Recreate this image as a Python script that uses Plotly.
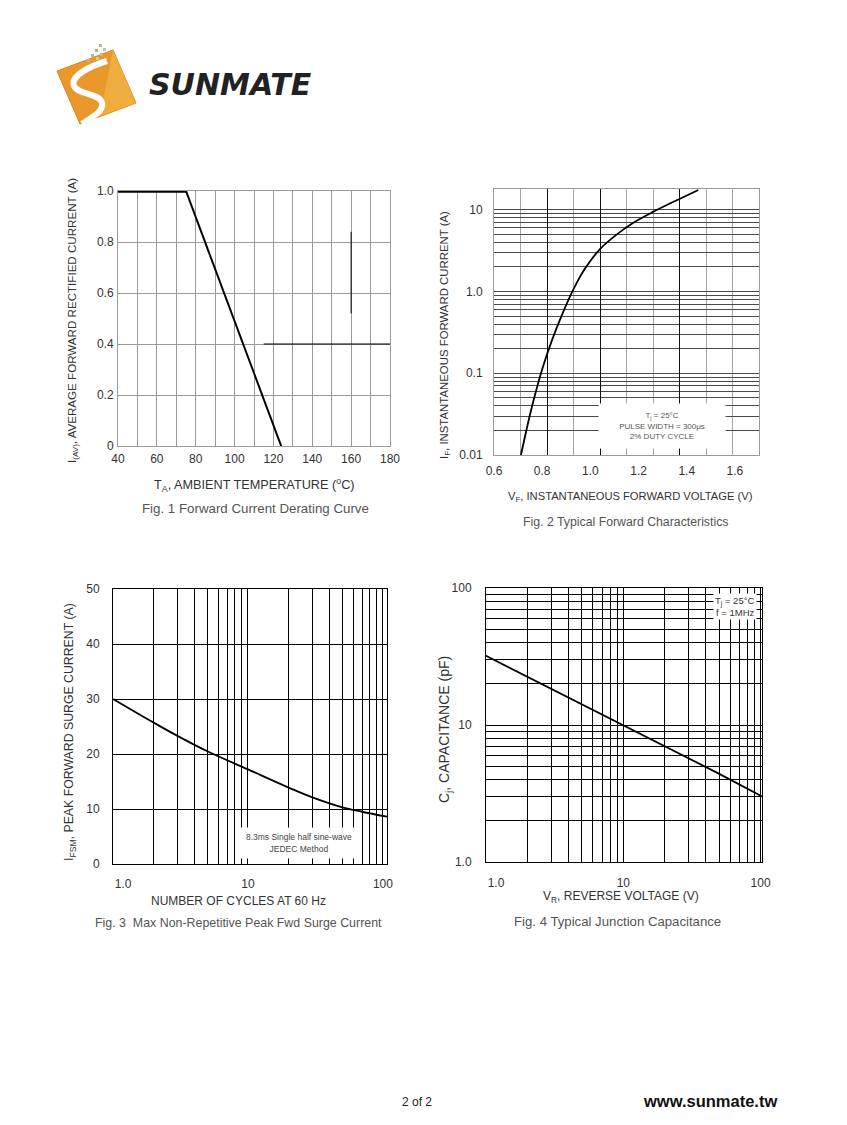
import plotly.graph_objects as go

W, H = 847, 1125
OFF_X, OFF_Y = 8, 8  # page body margin of the browser

# ---------------- data ----------------
# Fig. 1 Forward Current Derating Curve
derate_flat_temp = [40, 75]
derate_flat_current = [1.0, 1.0]
derate_slope_temp = [75, 124]
derate_slope_current = [1.0, 0.0]
fig1_mark_h_temp = [115, 180]
fig1_mark_h_current = [0.4, 0.4]
fig1_mark_v_temp = [160, 160]
fig1_mark_v_current = [0.52, 0.84]
fig1_xticks = [40, 60, 80, 100, 120, 140, 160, 180]
fig1_xgrid = [50, 70, 90, 110, 130, 150, 170]
fig1_yticks = [0, 0.2, 0.4, 0.6, 0.8, 1.0]
fig1_ytext = ["0", "0.2", "0.4", "0.6", "0.8", "1.0"]

# Fig. 2 Typical Forward Characteristics
vf_volts = [0.712, 0.735, 0.76, 0.80, 0.84, 0.88, 0.93, 0.98, 1.04, 1.11, 1.18, 1.26, 1.37, 1.448]
if_amps = [0.01, 0.0204, 0.0417, 0.112, 0.251, 0.501, 1.07, 1.95, 3.31, 5.01, 7.0, 9.44, 13.6, 17.5]
fig2_xticks = [0.6, 0.8, 1.0, 1.2, 1.4, 1.6]
fig2_xtext = ["0.6", "0.8", "1.0", "1.2", "1.4", "1.6"]
fig2_xgrid_light = [0.71, 0.93, 1.15, 1.26, 1.48, 1.59, 1.70]
fig2_xgrid_dark = [0.82, 1.04, 1.37]
fig2_yticks = [0.01, 0.1, 1, 10]
fig2_ytext = ["0.01", "0.1", "1.0", "10"]
fig2_ygrid = [0.02, 0.03, 0.04, 0.05, 0.06, 0.07, 0.08, 0.09,
              0.2, 0.3, 0.4, 0.5, 0.6, 0.7, 0.8, 0.9,
              2, 3, 4, 5, 6, 7, 8, 9]

# Fig. 3 Max Non-Repetitive Peak Fwd Surge Current
cycles = [1, 2, 3, 5, 10, 20, 30, 50, 70, 107]
ifsm_amps = [30.0, 25.7, 23.3, 20.5, 17.2, 13.9, 12.1, 10.3, 9.5, 8.6]
fig3_xticks = [1, 10, 100]
fig3_xtext = ["\u2007\u2007\u20071.0", "10", "100"]
fig3_xgrid = [2, 3, 4, 5, 6, 7, 8, 9, 20, 30, 40, 50, 60, 70, 80, 90]
fig3_yticks = [0, 10, 20, 30, 40, 50]

# Fig. 4 Typical Junction Capacitance
vr_volts = [1, 2, 5, 10, 20, 50, 100, 102]
cj_pf = [32, 22.5, 14.3, 10, 7.0, 4.4, 3.05, 2.98]
fig4_ticks = [1, 10, 100]
fig4_xtext = ["\u2007\u2007\u20071.0", "10", "100"]
fig4_ytext = ["1.0", "10", "100"]
fig4_grid = [2, 3, 4, 5, 6, 7, 8, 9, 20, 30, 40, 50, 60, 70, 80, 90]

# ---------------- helpers ----------------
def px(x):
    return (x - OFF_X) / W

def py(y):
    return 1 - (y - OFF_Y) / H

def path(cmds):
    out = []
    for c in cmds:
        if isinstance(c, str):
            out.append(c)
        else:
            out.append(f"{px(c[0]):.5f},{py(c[1]):.5f}")
    return " ".join(out)

FONT = "Liberation Sans, Arial, Helvetica, sans-serif"
TICKFONT = dict(family=FONT, size=12, color="#333")

fig = go.Figure()

# Fig 1 traces
fig.add_trace(go.Scatter(x=fig1_mark_h_temp, y=fig1_mark_h_current, mode="lines",
                         line=dict(color="black", width=1), xaxis="x", yaxis="y"))
fig.add_trace(go.Scatter(x=fig1_mark_v_temp, y=fig1_mark_v_current, mode="lines",
                         line=dict(color="black", width=1), xaxis="x", yaxis="y"))
fig.add_trace(go.Scatter(x=derate_flat_temp, y=derate_flat_current, mode="lines",
                         line=dict(color="black", width=3.5), xaxis="x", yaxis="y"))
fig.add_trace(go.Scatter(x=derate_slope_temp, y=derate_slope_current, mode="lines",
                         line=dict(color="black", width=2), xaxis="x", yaxis="y"))
# Fig 2 (empty trace to carry the overlay grid axis)
fig.add_trace(go.Scatter(x=[], y=[], mode="lines", xaxis="x5", yaxis="y2"))
fig.add_trace(go.Scatter(x=vf_volts, y=if_amps, mode="lines", line_shape="spline",
                         line=dict(color="black", width=1.8, smoothing=1.0),
                         xaxis="x2", yaxis="y2"))
# Fig 3
fig.add_trace(go.Scatter(x=cycles, y=ifsm_amps, mode="lines", line_shape="spline",
                         line=dict(color="black", width=1.8, smoothing=1.0),
                         xaxis="x3", yaxis="y3"))
# Fig 4
fig.add_trace(go.Scatter(x=vr_volts, y=cj_pf, mode="lines",
                         line=dict(color="black", width=1.8), xaxis="x4", yaxis="y4"))

def dom_x(a, b):
    return [px(a), px(b)]

def dom_y(top, bottom):
    return [py(bottom), py(top)]

common = dict(showline=True, mirror=True, ticks="", zeroline=False, tickfont=TICKFONT,
              fixedrange=True, automargin=False)

layout = dict(
    width=W, height=H, margin=dict(l=0, r=0, t=0, b=0, pad=0, autoexpand=False),
    paper_bgcolor="white", plot_bgcolor="white", showlegend=False, hovermode=False,
    # Fig 1
    xaxis=dict(domain=dom_x(118, 390), anchor="y", range=[40, 180], tickmode="array",
               tickvals=fig1_xticks, showgrid=True, gridcolor="#9a9a9a", gridwidth=1,
               linecolor="#9a9a9a", ticklabelstandoff=2,
               minor=dict(tickmode="array", tickvals=fig1_xgrid, showgrid=True,
                          gridcolor="#9a9a9a", gridwidth=1), **common),
    yaxis=dict(domain=dom_y(191, 446), anchor="x", range=[0, 1.0], tickmode="array",
               tickvals=fig1_yticks, ticktext=fig1_ytext, showgrid=True,
               gridcolor="#9a9a9a", linecolor="#9a9a9a", ticklabelstandoff=1, **common),
    # Fig 2
    xaxis2=dict(domain=dom_x(494, 759), anchor="y2", range=[0.6, 1.7], tickmode="array",
                tickvals=fig2_xticks, ticktext=fig2_xtext, showgrid=False,
                linecolor="#999", ticklabelstandoff=5,
                minor=dict(tickmode="array", tickvals=fig2_xgrid_light, showgrid=True,
                           gridcolor="#a5a5a5", gridwidth=1), **common),
    xaxis5=dict(domain=dom_x(494, 759), anchor="y2", overlaying="x2", range=[0.6, 1.7],
                tickmode="array", tickvals=fig2_xgrid_dark, showticklabels=False,
                showgrid=True, gridcolor="#111", gridwidth=1, showline=False,
                ticks="", zeroline=False, fixedrange=True),
    yaxis2=dict(domain=dom_y(189, 455), anchor="x2", type="log", range=[-2, 1.2553],
                tickmode="array", tickvals=fig2_yticks, ticktext=fig2_ytext,
                showgrid=True, gridcolor="#4a4a4a", linecolor="#999",
                ticklabelstandoff=8,
                minor=dict(tickmode="array", tickvals=fig2_ygrid, showgrid=True,
                           gridcolor="#4a4a4a", gridwidth=1), **common),
    # Fig 3
    xaxis3=dict(domain=dom_x(113, 387), anchor="y3", type="log", range=[0, 2.03],
                tickmode="array", tickvals=fig3_xticks, ticktext=fig3_xtext,
                showgrid=True, gridcolor="black", linecolor="black", ticklabelstandoff=9,
                minor=dict(tickmode="array", tickvals=fig3_xgrid, showgrid=True,
                           gridcolor="black", gridwidth=1), **common),
    yaxis3=dict(domain=dom_y(589, 864), anchor="x3", range=[0, 50], tickmode="array",
                tickvals=fig3_yticks, showgrid=True, gridcolor="black", linecolor="black",
                ticklabelstandoff=10, **common),
    # Fig 4
    xaxis4=dict(domain=dom_x(486, 762), anchor="y4", type="log", range=[0, 2.01],
                tickmode="array", tickvals=fig4_ticks, ticktext=fig4_xtext,
                showgrid=True, gridcolor="black", linecolor="black", ticklabelstandoff=10,
                minor=dict(tickmode="array", tickvals=fig4_grid, showgrid=True,
                           gridcolor="black", gridwidth=1), **common),
    yaxis4=dict(domain=dom_y(588, 862), anchor="x4", type="log", range=[0, 2],
                tickmode="array", tickvals=fig4_ticks, ticktext=fig4_ytext,
                showgrid=True, gridcolor="black", linecolor="black", ticklabelstandoff=11,
                minor=dict(tickmode="array", tickvals=fig4_grid, showgrid=True,
                           gridcolor="black", gridwidth=1), **common),
)
fig.update_layout(**layout)

ann = []

def text(x, y, s, size=12, color="#333", angle=0, xanchor="center", family=FONT, **kw):
    ann.append(dict(x=px(x), y=py(y), xref="paper", yref="paper", text=s, showarrow=False,
                    font=dict(family=family, size=size, color=color), textangle=angle,
                    xanchor=xanchor, yanchor="middle", **kw))

# Fig 1 labels
text(73, 321, "I<sub>(AV)</sub>, AVERAGE FORWARD RECTIFIED CURRENT (A)", size=11.6, angle=-90)
text(254, 485, "T<sub>A</sub>, AMBIENT TEMPERATURE (<sup>o</sup>C)", size=12.7)
text(256, 508, "Fig. 1 Forward Current Derating Curve", size=13.3, color="#555")
# Fig 2 labels
text(445, 335, "I<sub>F</sub>, INSTANTANEOUS FORWARD CURRENT (A)", size=11.4, angle=-90)
text(630, 497, "V<sub>F</sub>, INSTANTANEOUS FORWARD VOLTAGE (V)", size=11.2)
text(625, 522, "Fig. 2 Typical Forward Characteristics", size=12.3, color="#555")
ann.append(dict(x=px(662), y=py(426), xref="paper", yref="paper", showarrow=False,
                text="T<sub>j</sub> = 25°C<br>PULSE WIDTH = 300μs<br>2% DUTY CYCLE",
                font=dict(family=FONT, size=8, color="#555"), align="center",
                bgcolor="white", width=124, height=42, xanchor="center", yanchor="middle"))
# Fig 3 labels
text(70, 732, "I<sub>FSM</sub>, PEAK FORWARD SURGE CURRENT (A)", size=12.3, angle=-90)
text(239, 901, "NUMBER OF CYCLES AT 60 Hz")
text(238, 923, "Fig. 3  Max Non-Repetitive Peak Fwd Surge Current", size=12.4, color="#555")
ann.append(dict(x=px(299), y=py(843), xref="paper", yref="paper", showarrow=False,
                text="8.3ms Single half sine-wave<br>JEDEC Method",
                font=dict(family="Liberation Sans Narrow, Arial Narrow, " + FONT, size=8.5,
                          color="#444"), align="center",
                bgcolor="white", width=116, height=28, xanchor="center", yanchor="middle"))
# Fig 4 labels
text(445, 730, "C<sub>j</sub>, CAPACITANCE (pF)", size=14, angle=-90)
text(621, 897, "V<sub>R</sub>, REVERSE VOLTAGE (V)")
text(617, 921, "Fig. 4 Typical Junction Capacitance", size=13.2, color="#555")
ann.append(dict(x=px(757), y=py(606), xref="paper", yref="paper", showarrow=False,
                text="T<sub>j</sub> = 25°C<br>f = 1MHz",
                font=dict(family=FONT, size=9.5, color="#333"), align="right",
                bgcolor="white", borderpad=1, xanchor="right", yanchor="middle"))
# Footer
text(417, 1102, "2 of 2", size=12, color="#222")
text(710, 1101, "<b>www.sunmate.tw</b>", size=16.5, color="#111")
# Logo text
text(147, 84, "<b><i>SUNMATE</i></b>", size=30, color="#222", xanchor="left",
     family="DejaVu Sans, Verdana, sans-serif")

fig.update_layout(annotations=ann)

# Logo shapes
shapes = []
shapes.append(dict(type="path", xref="paper", yref="paper", layer="above",
                   path=path(["M", (57, 71), "L", (113, 50), "L", (136, 103), "L", (80, 124), "Z"]),
                   fillcolor="#e9992b", line=dict(color="#d9861a", width=1)))
shapes.append(dict(type="path", xref="paper", yref="paper", layer="above",
                   path=path(["M", (113, 50), "L", (136, 103), "L", (100, 116), "Z"]),
                   fillcolor="#efad3f", line=dict(width=0)))
shapes.append(dict(type="path", xref="paper", yref="paper", layer="above",
                   path=path(["M", (107, 61), "C", (90, 66), (70, 76), (74, 86),
                              "C", (78, 95), (100, 93), (102, 103),
                              "C", (104, 112), (90, 118), (82, 124)]),
                   line=dict(color="white", width=6)))
for (dx, dy, c) in [(99, 44, "#a9bf94"), (103, 48, "#b8c8a8"), (95, 49, "#9fb78b"),
                    (100, 53, "#b0c09e"), (91, 54, "#a5bb92"), (96, 57, "#c2cdb5"),
                    (87, 59, "#aabd98")]:
    shapes.append(dict(type="rect", xref="paper", yref="paper", layer="above",
                       x0=px(dx), x1=px(dx + 3), y0=py(dy + 3), y1=py(dy),
                       fillcolor=c, line=dict(width=0)))
fig.update_layout(shapes=shapes)

fig.write_html("out.html")
